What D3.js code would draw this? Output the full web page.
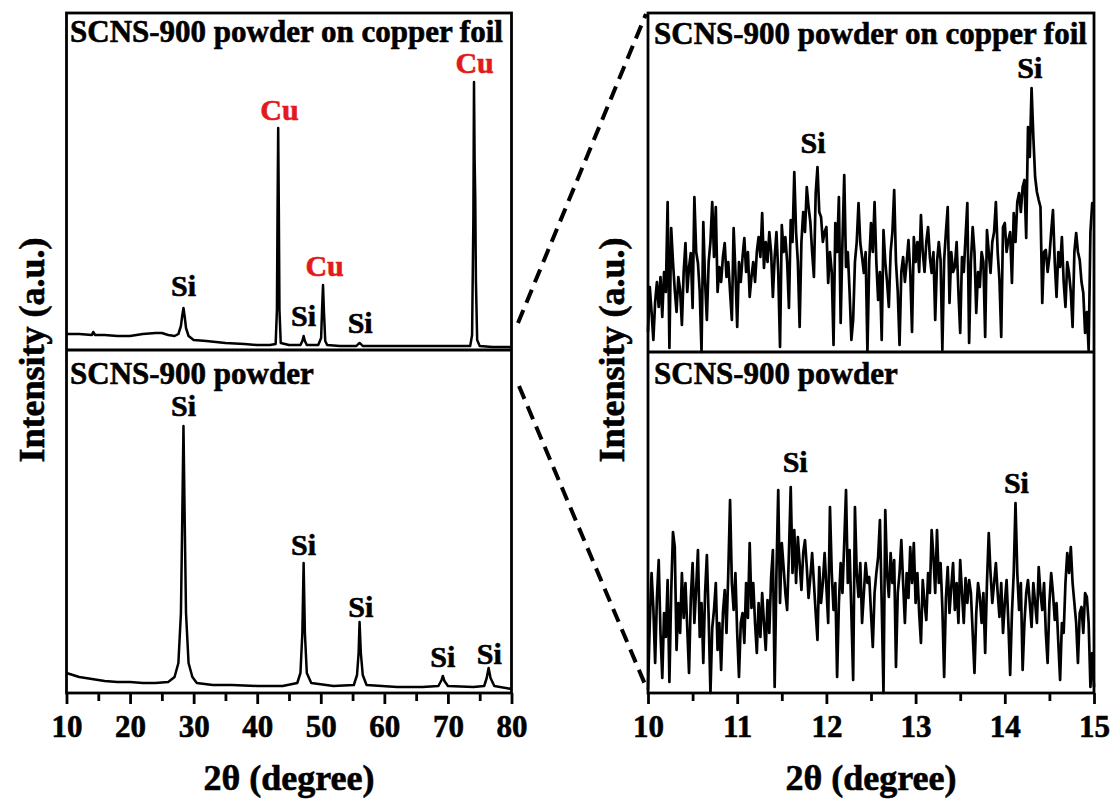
<!DOCTYPE html>
<html><head><meta charset="utf-8">
<script src="https://cdn.jsdelivr.net/npm/d3@7"></script>
<style>body{margin:0;background:#fff}svg text{font-family:"Liberation Serif","Times New Roman",serif;font-weight:bold}</style>
</head><body>
<svg id="c" width="1115" height="803"></svg>
<script>
// ---------- data ----------
const leftMajorTicks = [10,20,30,40,50,60,70,80];
const leftMinorTicks = [15,25,35,45,55,65,75];
const rightMajorTicks = [10,11,12,13,14,15];
const rightMinorTicks = [10.5,11.5,12.5,13.5,14.5];

const panelTitles = ["SCNS-900 powder on copper foil","SCNS-900 powder"];
const xTitle = "2θ (degree)";
const yTitle = "Intensity (a.u.)";

// SCNS-900 powder on copper foil, full range
const foilX = [10,12,14,14.2,14.5,16,18,20,22,24,25,26,27,27.6,28.0,28.2,28.4,28.6,28.8,29.2,30,32,35,38,40,42,42.9,43.1,43.2,43.3,43.4,43.5,43.7,45,46.8,47.1,47.3,47.5,47.8,49.6,50.05,50.2,50.35,50.5,50.7,51,53,55.6,55.9,56.1,56.3,56.6,60,65,70,73.5,73.8,74.0,74.1,74.2,74.3,74.4,74.6,75,77,80];
const foilY = [16,16,15,18,15,15,14,14,16,17,17,15,14,16,24,34,42,33,22,14,10,9,7,6,5,5,6,40,140,222,140,40,7,5,5,9,14,9,5,5,12,40,65,38,9,5,4,4,6,7,6,4,4,4,4,4,15,130,268,190,152,70,10,4,3,3];

// SCNS-900 powder, full range
const powderX = [10,11,12,14,16,18,20,22,24,26,27,27.6,28.0,28.2,28.4,28.6,28.8,29.2,29.8,30.5,33,36,40,44,46.3,46.8,47.1,47.3,47.5,47.8,48.5,52,55.2,55.7,55.95,56.1,56.3,56.6,57.2,62,66,68.5,69.0,69.2,69.45,70,74,75.7,76.1,76.4,76.7,77.3,80];
const powderY = [20,18,16,14,12,11,11,10,10,11,16,30,80,170,267,170,80,30,16,10,8,8,7,7,10,20,60,130,60,20,10,7,8,18,40,71,40,18,8,6,6,7,13,17,12,7,6,7,15,25,15,7,4];

const foilLabels = [["Si",28.4,54],["Cu",43.5,230],["Si",47.3,24],["Cu",50.6,74],["Si",56.2,17],["Cu",74.2,277]];
const powderLabels = [["Si",28.4,277],["Si",47.3,138],["Si",56.3,76],["Si",69.2,26],["Si",76.5,29]];

// zoomed range 10-15 deg, step 0.02
const zoomStart = 10, zoomStep = 0.02;
const zoomFoilY = [20,65,40,12,50,70,45,75,35,80,60,150,4,124,90,62,40,75,62,27,80,109,60,85,99,44,155,100,89,60,0,130,70,32,90,110,150,95,145,60,85,70,95,109,75,90,60,32,124,80,25,90,70,95,114,80,100,55,75,90,70,100,115,95,139,84,110,90,120,100,55,95,120,80,5,127,100,115,90,44,132,110,180,120,90,25,110,140,120,165,145,130,100,75,159,185,140,135,110,120,125,69,100,80,7,129,100,155,29,110,177,85,100,60,12,32,90,110,149,109,95,79,100,0,90,129,100,150,90,52,80,12,122,90,70,45,100,120,162,90,60,7,80,95,70,90,112,80,20,115,90,110,80,137,100,80,110,125,95,79,100,32,90,110,92,2,92,120,145,49,100,80,85,110,60,19,95,80,115,149,9,90,125,100,39,80,65,100,90,15,122,100,79,110,120,150,100,72,15,125,129,100,112,120,69,139,110,150,159,140,165,172,114,225,195,264,215,175,160,152,145,49,100,102,80,95,120,142,90,55,100,85,115,70,45,90,79,60,25,100,119,100,92,70,59,19,40,2,120,149,149];
const zoomPowderY = [3,70,120,85,30,95,133,60,15,80,56,113,11,100,161,146,43,90,60,120,75,110,65,20,95,130,70,105,143,56,90,30,100,138,76,0,65,83,110,43,70,23,80,103,60,120,193,110,83,120,60,16,70,80,50,110,75,150,85,110,70,40,90,56,100,70,43,93,60,115,143,6,120,203,90,150,126,100,83,140,206,120,163,110,156,130,103,140,153,126,95,116,140,110,80,53,126,90,110,140,106,70,186,120,83,110,16,90,130,100,150,203,110,143,80,13,186,120,96,130,70,100,130,110,116,80,46,100,120,136,173,90,0,183,120,96,140,110,133,26,100,120,153,110,70,120,95,146,110,150,90,120,80,50,113,90,73,120,100,163,136,100,163,110,130,85,16,95,126,80,106,130,83,110,70,133,100,70,115,90,113,100,60,20,80,110,96,70,100,40,110,160,120,90,110,130,100,76,110,60,90,113,70,18,80,120,190,120,83,110,23,70,100,113,90,66,110,90,70,126,100,83,110,60,30,90,120,100,73,90,50,13,70,60,110,140,120,146,110,90,70,30,80,86,60,100,96,70,6,40,6];
const zoomFoilLabels = [["Si",11.85,199],["Si",14.28,274]];
const zoomPowderLabels = [["Si",11.65,221],["Si",14.13,200]];

// ---------- drawing ----------
const svg = d3.select("#c");
const RED = "#e31a1c";
const TOP = 13, BOT = 693;
const L = {x0:66.5, x1:511.5, mid:350};
const R = {x0:648, x1:1094, mid:352};

const xL = d3.scaleLinear().domain([10,80]).range([L.x0, L.x1]);
const xR = d3.scaleLinear().domain([10,15]).range([R.x0, R.x1]);
const yFoil = d3.scaleLinear().domain([0,337]).range([L.mid, TOP]);
const yPowder = d3.scaleLinear().domain([0,343]).range([BOT, L.mid]);
const yZFoil = d3.scaleLinear().domain([0,339]).range([R.mid, TOP]);
const yZPowder = d3.scaleLinear().domain([0,341]).range([BOT, R.mid]);

function drawLine(xs, ys, x, y, w){
  const pts = xs.map((v,i)=>[v, ys[i]]);
  svg.append("path").datum(pts)
    .attr("fill","none").attr("stroke","#000").attr("stroke-width",w)
    .attr("stroke-linejoin","round")
    .attr("d", d3.line().x(d=>x(d[0])).y(d=>y(d[1])));
}
const zoomX = zoomFoilY.map((_,i)=>+(zoomStart + i*zoomStep).toFixed(2));

drawLine(foilX, foilY, xL, yFoil, 2.5);
drawLine(powderX, powderY, xL, yPowder, 2.5);
drawLine(zoomX, zoomFoilY, xR, yZFoil, 2.7);
drawLine(zoomX, zoomPowderY, xR, yZPowder, 2.7);

// frames
function frame(P){
  svg.append("rect").attr("x",P.x0).attr("y",TOP).attr("width",P.x1-P.x0).attr("height",BOT-TOP)
    .attr("fill","none").attr("stroke","#000").attr("stroke-width",2.8);
  svg.append("line").attr("x1",P.x0).attr("x2",P.x1).attr("y1",P.mid).attr("y2",P.mid)
    .attr("stroke","#000").attr("stroke-width",2.8);
}
frame(L); frame(R);

// text helper: thin outline to match heavy Times Bold
function heavy(sel, col){ return sel.attr("stroke", col||"#000").attr("stroke-width",0.6).attr("paint-order","stroke"); }

// axes
function axes(x, major, minor){
  const gM = svg.append("g").attr("transform",`translate(0,${BOT})`)
    .call(d3.axisBottom(x).tickValues(major).tickSize(11).tickPadding(11).tickFormat(d3.format("d")));
  gM.select(".domain").remove();
  gM.selectAll(".tick line").attr("stroke-width",2.8);
  heavy(gM.selectAll(".tick text").attr("font-size",31).attr("fill","#000")
    .style("font-family",'"Liberation Serif","Times New Roman",serif').style("font-weight","bold"));
  const gm = svg.append("g").attr("transform",`translate(0,${BOT})`)
    .call(d3.axisBottom(x).tickValues(minor).tickSize(8).tickFormat(""));
  gm.select(".domain").remove();
  gm.selectAll(".tick line").attr("stroke-width",2.8);
}
axes(xL, leftMajorTicks, leftMinorTicks);
axes(xR, rightMajorTicks, rightMinorTicks);

// peak labels
function labels(arr, x, y){
  arr.forEach(([t,xv,yv])=>{
    const c = t==="Cu"?RED:"#000";
    heavy(svg.append("text").attr("x",x(xv)).attr("y",y(yv)).attr("text-anchor","middle")
      .attr("font-size",30).attr("fill", c).text(t), c);
  });
}
labels(foilLabels, xL, yFoil);
labels(powderLabels, xL, yPowder);
labels(zoomFoilLabels, xR, yZFoil);
labels(zoomPowderLabels, xR, yZPowder);

// panel titles
[[L.x0+3.5,42],[R.x0+6,44]].forEach(([px,py])=>{
  heavy(svg.append("text").attr("x",px).attr("y",py).attr("font-size",31).text(panelTitles[0]));
});
[[L.x0+3.5,384],[R.x0+6,384]].forEach(([px,py])=>{
  heavy(svg.append("text").attr("x",px).attr("y",py).attr("font-size",31).text(panelTitles[1]));
});

// axis titles
[[(L.x0+L.x1)/2,790],[(R.x0+R.x1)/2,790]].forEach(([px,py])=>{
  heavy(svg.append("text").attr("x",px).attr("y",py).attr("text-anchor","middle").attr("font-size",36).text(xTitle));
});
[[44,350],[624,350]].forEach(([px,py])=>{
  heavy(svg.append("text").attr("transform",`translate(${px},${py}) rotate(-90)`).attr("text-anchor","middle").attr("font-size",36).text(yTitle));
});

// dashed zoom connectors
[[[518,323],[646,14]],[[519,386],[647,689]]].forEach(([a,b])=>{
  svg.append("line").attr("x1",a[0]).attr("y1",a[1]).attr("x2",b[0]).attr("y2",b[1])
    .attr("stroke","#000").attr("stroke-width",4).attr("stroke-dasharray","14,8");
});
</script>
</body></html>
